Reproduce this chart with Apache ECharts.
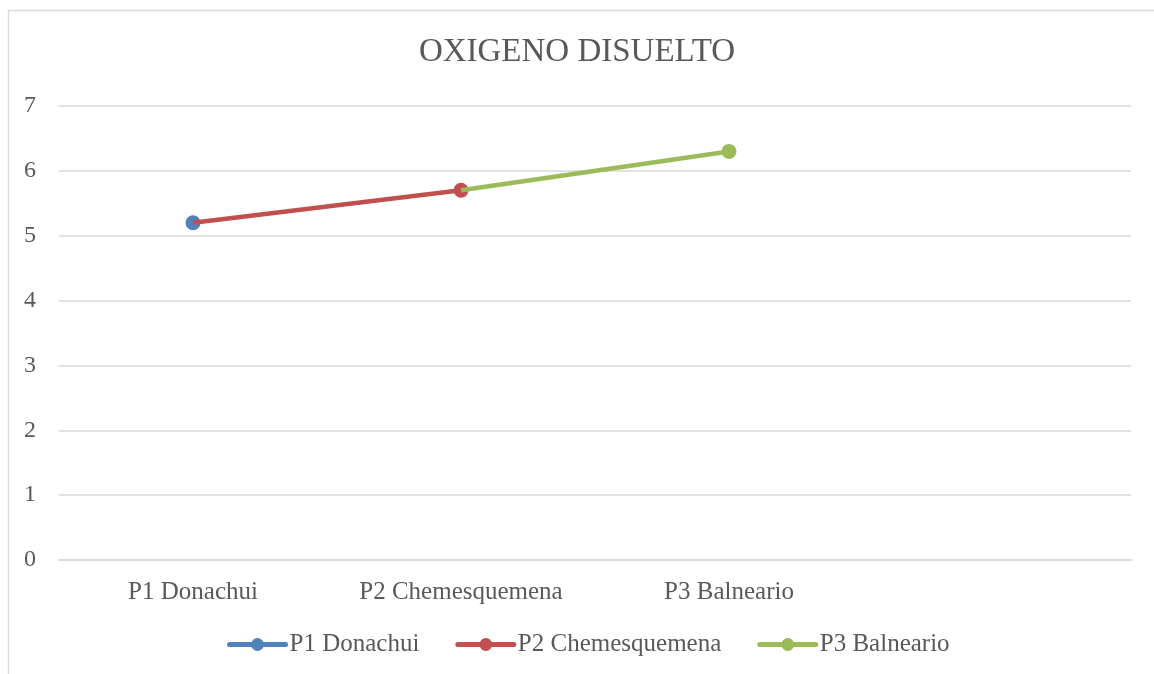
<!DOCTYPE html>
<html>
<head>
    <meta charset="utf-8"/>
    <script src="https://cdn.jsdelivr.net/npm/echarts@6/dist/echarts.min.js"></script>
    <style>
        html, body { margin: 0; padding: 0; background: #fff; }
    </style>
</head>
<body>
<div id="main" style="width:1154px;height:674px;"></div>
<script type="text/javascript">
    // categories (the 4th slot is empty, as in the original sheet)
    var categories = ['P1 Donachui', 'P2 Chemesquemena', 'P3 Balneario', ''];
    var seriesNames = ['P1 Donachui', 'P2 Chemesquemena', 'P3 Balneario'];
    var p1Values = [5.2, null, null, null];
    var p2Values = [5.2, 5.7, null, null];
    var p3Values = [null, 5.7, 6.3, null];
    // which point of each series carries a visible marker
    var markerIndex = [0, 1, 2];
    var colors = ['#4f81bd', '#c0504d', '#9bbb59'];
    var yTicks = [0, 1, 2, 3, 4, 5, 6, 7];

    var chartDom = document.getElementById('main');
    var myChart = echarts.init(chartDom);
    var font = 'Liberation Serif, DejaVu Serif, serif';

    function buildSeries(name, values, idx) {
        return {
            name: name,
            type: 'line',
            data: values,
            color: colors[idx],
            symbol: 'circle',
            symbolSize: function (val, params) {
                return params.dataIndex === markerIndex[idx] ? 15 : 0;
            },
            showAllSymbol: true,
            connectNulls: false,
            lineStyle: { width: 4.5, color: colors[idx] },
            itemStyle: { color: colors[idx] },
            z: 2 + idx
        };
    }

    var option = {
        animation: false,
        title: {
            text: 'OXIGENO DISUELTO',
            left: 'center',
            top: 31,
            textStyle: { fontFamily: font, fontSize: 33, fontWeight: 'normal', color: '#595959' }
        },
        graphic: [{
            type: 'rect',
            left: 6, top: 8,
            shape: { width: 1160, height: 700 },
            style: { fill: 'none', stroke: '#d9d9d9', lineWidth: 1.5 },
            silent: true
        }],
        grid: { left: 59, right: 23, top: 106, bottom: 114 },
        legend: {
            data: seriesNames,
            bottom: 12,
            left: 222,
            itemWidth: 56,
            itemHeight: 16,
            itemGap: 36,
            lineStyle: { width: 5, cap: 'round' },
            textStyle: { fontFamily: font, fontSize: 25, color: '#595959', padding: [0, 0, 0, -1] }
        },
        xAxis: {
            type: 'category',
            data: categories,
            boundaryGap: true,
            axisLine: { lineStyle: { color: '#d9d9d9', width: 1.5 } },
            axisTick: { show: false },
            axisLabel: { fontFamily: font, fontSize: 25, color: '#595959', margin: 20 }
        },
        yAxis: {
            type: 'value',
            min: yTicks[0],
            max: yTicks[yTicks.length - 1],
            interval: 1,
            axisLine: { show: false },
            axisTick: { show: false },
            splitLine: { lineStyle: { color: '#d9d9d9', width: 1.5 } },
            axisLabel: { fontFamily: font, fontSize: 24, color: '#595959', margin: 23 }
        },
        series: [
            buildSeries(seriesNames[0], p1Values, 0),
            buildSeries(seriesNames[1], p2Values, 1),
            buildSeries(seriesNames[2], p3Values, 2)
        ]
    };

    option && myChart.setOption(option);
</script>
</body>
</html>
